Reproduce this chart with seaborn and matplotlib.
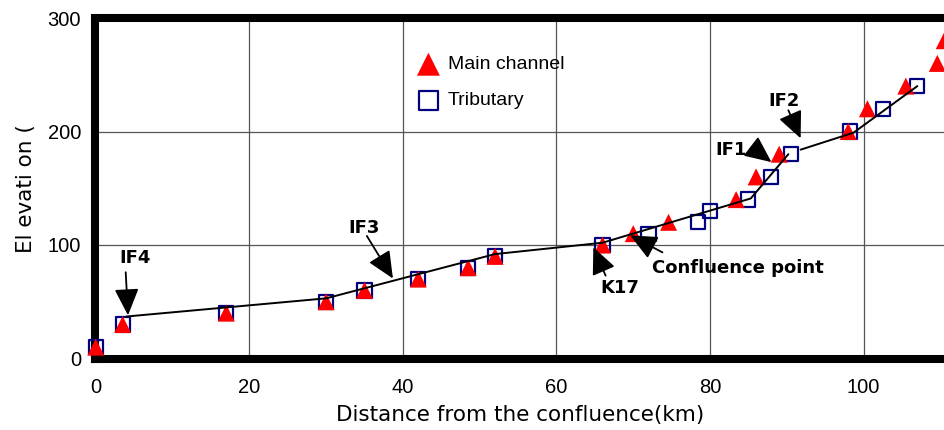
import pandas as pd
import numpy as np
import seaborn as sns
import matplotlib
matplotlib.use("Agg")
import matplotlib.pyplot as plt

# ---------------------------------------
# Data
# ---------------------------------------
main_km = [0, 3.5, 17, 30, 35, 42, 48.5, 52, 66, 70, 74.6, 83.4, 86, 89, 98, 100.5, 105.5, 109.6, 110.5]
main_elev = [10, 30, 40, 50, 60, 70, 80, 90, 100, 110, 120, 140, 160, 180, 200, 220, 240, 260, 280]

trib_km = [0, 3.5, 17, 30, 35, 42, 48.5, 52, 66, 72, 78.4, 80, 84.9, 87.9, 90.5, 98.2, 102.5, 107]
trib_elev = [10, 30, 40, 50, 60, 70, 80, 90, 100, 110, 120, 130, 140, 160, 180, 200, 220, 240]

# fitted profile line, drawn as two pieces
line_km = [4, 30, 52, 66, 85.3, 90.2, 91.8, 98.7, 107]
line_elev = [37, 53, 92, 102, 141, 180, 184, 199, 240]
line_seg = [1, 1, 1, 1, 1, 1, 2, 2, 2]

x_ticks = [0, 20, 40, 60, 80, 100]
y_ticks = [0, 100, 200, 300]

# label text, text position, arrow tail, arrow tip
notes = [
    ("IF4", (5.1, 88.6), (3.9, 76), (4.2, 38), "center"),
    ("IF3", (34.9, 115), (35.3, 108), (38.7, 70.5), "center"),
    ("K17", (68.3, 62), (66.4, 73), (64.8, 98), "center"),
    ("Confluence point", (72.5, 80), (73.8, 93.5), (69.6, 108.5), "left"),
    ("IF1", (82.7, 184), (85.5, 186), (88.0, 173), "center"),
    ("IF2", (89.6, 226.6), (90.2, 218.7), (91.8, 194), "center"),
]

main_df = pd.DataFrame({"km": main_km, "elev": main_elev})
trib_df = pd.DataFrame({"km": trib_km, "elev": trib_elev})
line_df = pd.DataFrame({"km": line_km, "elev": line_elev, "seg": line_seg})

# ---------------------------------------
# Plot
# ---------------------------------------
sns.set_style("white")
plt.rcParams['font.family'] = ['DejaVu Sans', 'Noto Sans CJK JP']
plt.rcParams['text.color'] = 'black'
plt.rcParams['axes.labelcolor'] = 'black'
plt.rcParams['xtick.color'] = 'black'
plt.rcParams['ytick.color'] = 'black'

fig = plt.figure(figsize=(9.45, 4.3), dpi=100)
ax = fig.add_axes([95 / 945, 1 - 358.5 / 430, 1 - 95 / 945, (358.5 - 18) / 430])

sns.scatterplot(data=main_df, x="km", y="elev", marker="^", s=150, color="red",
                edgecolor="none", label="Main channel", ax=ax, zorder=4, clip_on=False)
sns.scatterplot(data=trib_df, x="km", y="elev", marker="s", s=105, facecolor="none",
                edgecolor="#000080", linewidth=1.6, label="Tributary", ax=ax, zorder=3,
                clip_on=False)
sns.lineplot(data=line_df, x="km", y="elev", units="seg", estimator=None, sort=False,
             color="black", linewidth=1.4, ax=ax, zorder=5, legend=False)

for txt, pos, tail, tip, ha in notes:
    ax.annotate("", xy=tip, xytext=tail,
                arrowprops=dict(arrowstyle="-|>,head_length=0.66,head_width=0.3",
                                mutation_scale=25, color="black", lw=1.3,
                                shrinkA=0, shrinkB=0), zorder=6)
    ax.text(pos[0], pos[1], txt, ha=ha, va="center", fontsize=13,
            fontweight="bold", color="black", zorder=6)

ax.set_xlim(-0.1, 110.6)
ax.set_ylim(0, 300)
ax.set_xticks(x_ticks)
ax.set_yticks(y_ticks)
ax.tick_params(length=0, labelsize=14.5, labelcolor="black")
ax.tick_params(axis="x", pad=14)
ax.tick_params(axis="y", pad=10)
for lab in ax.get_xticklabels() + ax.get_yticklabels():
    lab.set_fontfamily("Liberation Sans")
ax.grid(True, color="#555555", linewidth=0.9)
ax.set_axisbelow(True)

for side in ["left", "top", "bottom"]:
    ax.spines[side].set_linewidth(5.8)
    ax.spines[side].set_color("black")
ax.spines["right"].set_visible(False)

ax.set_xlabel("Distance from the confluence(km)", fontsize=15.5, labelpad=6)
ax.set_ylabel("El evati on (", fontsize=15.5, labelpad=8)

leg = ax.legend(loc="upper left", bbox_to_anchor=(409 / 945, 1 - 46 / 430),
                bbox_transform=fig.transFigure, frameon=False, fontsize=14,
                labelspacing=0.95, handletextpad=0.5, borderpad=0, handlelength=1.0,
                markerscale=1.35)
for t in leg.get_texts():
    t.set_fontfamily("Liberation Sans")
    t.set_color("black")

fig.savefig("out.png", dpi=100)
